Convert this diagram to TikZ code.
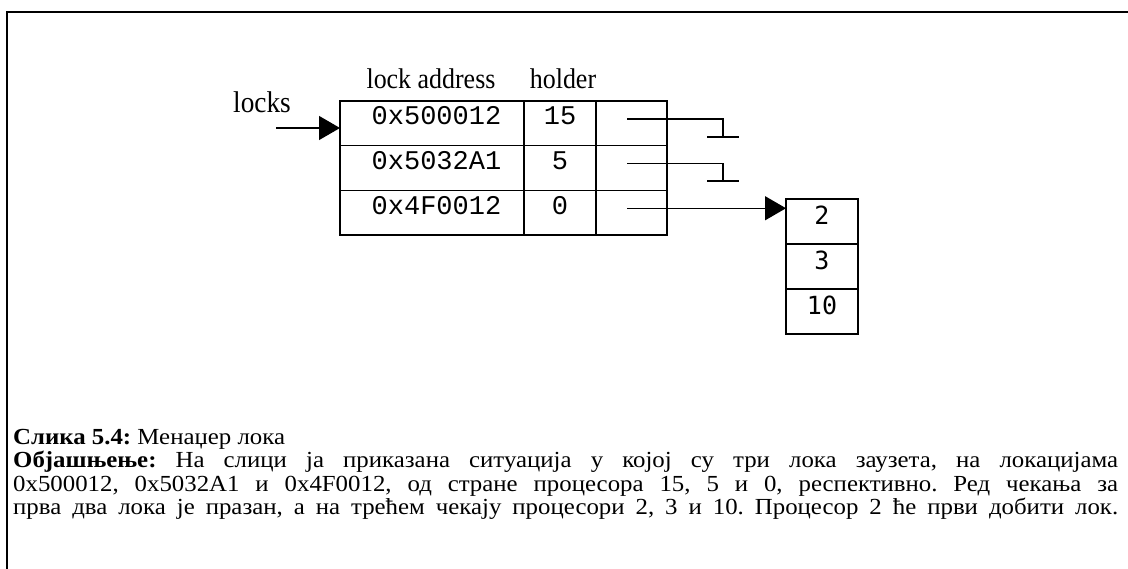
\documentclass[tikz,border=0pt]{standalone}
\usepackage{fontspec}
\setmainfont{Liberation Serif}
\setmonofont{Liberation Mono}
\newfontfamily\capfont[FakeStretch=1.08]{Liberation Serif}
\newfontfamily\hdrfont[FakeStretch=0.91]{Liberation Serif}
\newfontfamily\qfont{DejaVu Sans Mono}
\usetikzlibrary{arrows.meta}

\tikzset{
  cell/.style={draw, line width=1.5pt, inner sep=0pt, outer sep=0pt, anchor=north west,
    font=\fontsize{27}{27}\selectfont\ttfamily, text height=24pt, text depth=20.7pt},
  addr/.style={cell, minimum width=184pt, execute at begin node=\hspace*{9pt}},
  qcell/.style={cell, minimum width=72pt, font=\fontsize{25}{25}\selectfont\qfont,
    text height=26pt, text depth=19pt},
  hdr/.style={font=\fontsize{28.5}{28.5}\selectfont\hdrfont, anchor=base, inner sep=0pt},
  ptr/.style={line width=1.3pt},
  head/.style={-{Triangle[length=21pt,width=24pt]}},
}

\begin{document}
\begin{tikzpicture}[x=1pt, y=-1pt]
  \useasboundingbox (0,0) rectangle (1128,569);
  \clip (0,0) rectangle (1128,569);

  % outer frame
  \draw[line width=2pt] (7,12) rectangle (1140,590);

  % column headers and list head label
  \node[hdr] (hA) at (431,89) {lock address};
  \node[hdr] (hH) at (563,89) {holder};
  \node[hdr, font=\fontsize{30}{30}\selectfont\hdrfont] (lk) at (262,113) {locks};

  % lock table
  \node[addr]                      (a1) at (340,101)   {0x500012};
  \node[cell, minimum width=72pt]  (h1) at (524,101)   {15};
  \node[cell, minimum width=71pt]  (p1) at (596,101)   {};
  \node[addr]                      (a2) at (340,145.7) {0x5032A1};
  \node[cell, minimum width=72pt]  (h2) at (524,145.7) {5};
  \node[cell, minimum width=71pt]  (p2) at (596,145.7) {};
  \node[addr]                      (a3) at (340,190.3) {0x4F0012};
  \node[cell, minimum width=72pt]  (h3) at (524,190.3) {0};
  \node[cell, minimum width=71pt]  (p3) at (596,190.3) {};

  % waiting queue of the third lock
  \node[qcell] (q1) at (786,199) {2};
  \node[qcell] (q2) at (786,244) {3};
  \node[qcell] (q3) at (786,289) {10};

  % list head pointer
  \coordinate (ls) at (276,128);
  \draw[ptr, head] (ls) -- (ls -| a1.west);

  % queue pointers
  \coordinate (s1) at ([xshift=31pt, yshift=4.4pt]p1.west);
  \coordinate (s2) at ([xshift=31pt, yshift=4.4pt]p2.west);
  \coordinate (s3) at ([xshift=31pt, yshift=4.4pt]p3.west);
  \coordinate (g1) at (723,137);
  \coordinate (g2) at (723,181);

  \draw[ptr] (s1) -| (g1);
  \draw[ptr] ([xshift=-16pt]g1) -- ([xshift=16pt]g1);
  \draw[ptr] (s2) -| (g2);
  \draw[ptr] ([xshift=-16pt]g2) -- ([xshift=16pt]g2);
  \draw[ptr, head] (s3) -- (s3 -| q1.west);

  % caption
  \node[anchor=north west, inner sep=0pt, text width=1105pt, align=justify,
        font=\fontsize{23}{23.3}\selectfont\capfont\frenchspacing] (cap) at (13,429)
  {\textbf{Слика 5.4:} Менаџер лока\\
   \textbf{Објашњење:} На слици ја приказана ситуација у којој су три лока заузета, на локацијама\linebreak
   0x500012, 0x5032A1 и 0x4F0012, од стране процесора 15, 5 и 0, респективно. Ред чекања за\linebreak
   прва два лока је празан, а на трећем чекају процесори 2, 3 и 10. Процесор 2 ће први добити лок.\parfillskip=0pt\par};
\end{tikzpicture}
\end{document}
